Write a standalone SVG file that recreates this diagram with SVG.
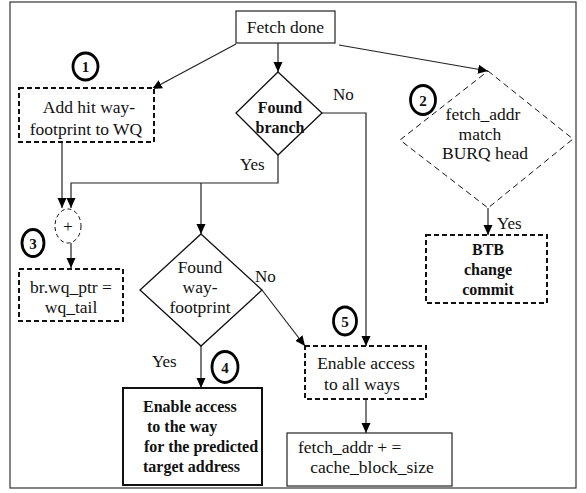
<svg xmlns="http://www.w3.org/2000/svg" width="586" height="493" viewBox="0 0 586 493" font-family="Liberation Serif, Tinos, DejaVu Serif, serif">
<defs>
<marker id="ah" viewBox="0 0 10 10" refX="10" refY="5" markerWidth="10" markerHeight="10" markerUnits="userSpaceOnUse" orient="auto">
<path d="M0,0.5 L10,5 L0,9.5 Z" fill="#000"/>
</marker>
<style>
text{font-size:17.5px;fill:#111;}
.c{text-anchor:middle;}
.b{font-weight:bold;font-size:16px;}
.box{fill:#fff;stroke:#222;stroke-width:1.2;}
.dbox{fill:#fff;stroke:#111;stroke-width:2;stroke-dasharray:5,3;}
.bbox{fill:#fff;stroke:#111;stroke-width:2;}
.dia{fill:#fff;stroke:#111;stroke-width:1.3;}
.ddia{fill:#fff;stroke:#111;stroke-width:1;stroke-dasharray:6,4;}
.num{fill:none;stroke:#000;stroke-width:2.8;}
.ntx{font-weight:bold;font-size:15px;text-anchor:middle;}
.ln{fill:none;stroke:#222;stroke-width:1.2;marker-end:url(#ah);}
.lbl{font-size:17px;}
</style>
</defs>
<rect x="10" y="2" width="566" height="486" fill="#fff" stroke="#333" stroke-width="1.2"/>

<g id="connectors">
<path class="ln" d="M236,44 L152,89"/>
<path class="ln" d="M278,43 L278,72"/>
<path class="ln" d="M339,45 L488,71"/>
<path class="ln" d="M322,113 L366,113 L366,346"/>
<path class="ln" d="M278,155 L278,183 L71,183 L71,208"/>
<path class="ln" d="M201,183 L201,234"/>
<path class="ln" d="M62,142 L62,208"/>
<path class="ln" d="M71,243 L71,268"/>
<path class="ln" d="M262,290 L305,346"/>
<path class="ln" d="M201,346 L201,388"/>
<path class="ln" d="M366,399 L366,433"/>
<path class="ln" d="M488,208 L488,235"/>
<text class="lbl" x="333" y="100">No</text>
<text class="lbl" x="240" y="170">Yes</text>
<text class="lbl" x="255" y="282">No</text>
<text class="lbl" x="152" y="367">Yes</text>
<text class="lbl" x="497" y="229">Yes</text>
</g>

<g id="fetch-done">
<rect class="box" x="236" y="11" width="99" height="32"/>
<text class="c" x="285.5" y="33">Fetch done</text>
</g>

<g id="add-hit">
<rect class="dbox" x="19" y="88" width="135" height="54"/>
<text class="c" x="89" y="113">Add hit way-</text>
<text class="c" x="86" y="135">footprint to WQ</text>
</g>

<g id="found-branch">
<polygon class="dia" points="278,72 322,113 278,155 236,113"/>
<text class="c b" x="280" y="113">Found</text>
<text class="c b" x="280" y="133">branch</text>
</g>

<g id="burq">
<polygon class="ddia" points="488,71 573,139 488,208 400,140"/>
<text class="c" x="483" y="120">fetch_addr</text>
<text class="c" x="480" y="140">match</text>
<text class="c" x="485" y="159">BURQ head</text>
</g>

<g id="btb">
<rect class="dbox" x="426" y="235" width="121" height="68"/>
<text class="c b" x="488" y="255">BTB</text>
<text class="c b" x="488" y="275">change</text>
<text class="c b" x="488" y="295">commit</text>
</g>

<g id="plus">
<ellipse cx="68" cy="226" rx="13" ry="17" fill="#fff" stroke="#111" stroke-width="1" stroke-dasharray="4,3"/>
<text class="c" x="68" y="232">+</text>
</g>

<g id="wq-ptr">
<rect class="dbox" x="19" y="269" width="104" height="52"/>
<text class="c" x="71" y="293">br.wq_ptr =</text>
<text class="c" x="71" y="313">wq_tail</text>
</g>

<g id="found-way">
<polygon class="dia" points="201,234 262,290 201,346 140,290"/>
<text class="c" x="200" y="273">Found</text>
<text class="c" x="200" y="293">way-</text>
<text class="c" x="200" y="313">footprint</text>
</g>

<g id="enable-way">
<rect class="bbox" x="123" y="388" width="139" height="97"/>
<text class="b" x="143" y="412">Enable access</text>
<text class="b" x="147" y="432">to the way</text>
<text class="b" x="144" y="452">for the predicted</text>
<text class="b" x="143" y="472">target address</text>
</g>

<g id="enable-all">
<rect class="dbox" x="305" y="346" width="121" height="53"/>
<text class="c" x="366" y="369">Enable access</text>
<text class="c" x="362" y="390">to all ways</text>
</g>

<g id="fetch-addr">
<rect class="box" x="287" y="433" width="165" height="53"/>
<text x="298" y="453">fetch_addr + =</text>
<text class="c" x="372" y="473">cache_block_size</text>
</g>

<g id="marker-1"><ellipse class="num" cx="85.5" cy="66.5" rx="12.5" ry="13.5"/><text class="ntx" x="85.5" y="72">1</text></g>
<g id="marker-2"><ellipse class="num" cx="423" cy="100" rx="12.5" ry="14.5"/><text class="ntx" x="423" y="105.5">2</text></g>
<g id="marker-3"><ellipse class="num" cx="33" cy="243" rx="11" ry="13.5"/><text class="ntx" x="33" y="248.5">3</text></g>
<g id="marker-4"><ellipse class="num" cx="225" cy="367" rx="13" ry="15.5"/><text class="ntx" x="225" y="372.5">4</text></g>
<g id="marker-5"><ellipse class="num" cx="345" cy="321" rx="11.5" ry="14"/><text class="ntx" x="345" y="326.5">5</text></g>
</svg>
